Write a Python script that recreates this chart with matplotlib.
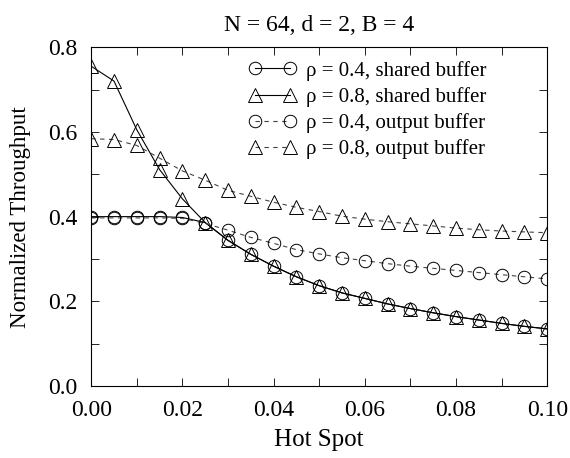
import matplotlib
matplotlib.use("Agg")
import matplotlib.pyplot as plt
from matplotlib.ticker import MultipleLocator

plt.rcParams['font.family'] = ['Liberation Serif', 'DejaVu Serif']

hot_spot = [0.000, 0.005, 0.010, 0.015, 0.020, 0.025, 0.030, 0.035, 0.040, 0.045, 0.050,
            0.055, 0.060, 0.065, 0.070, 0.075, 0.080, 0.085, 0.090, 0.095, 0.100]

shared_04 = [0.400, 0.400, 0.400, 0.400, 0.398, 0.386, 0.344, 0.311, 0.283, 0.258, 0.237,
             0.220, 0.207, 0.194, 0.183, 0.173, 0.164, 0.156, 0.148, 0.141, 0.135]
shared_08 = [0.755, 0.720, 0.605, 0.511, 0.442, 0.386, 0.344, 0.311, 0.283, 0.258, 0.237,
             0.220, 0.207, 0.194, 0.183, 0.173, 0.164, 0.156, 0.148, 0.141, 0.135]
output_04 = [0.397, 0.397, 0.397, 0.397, 0.396, 0.384, 0.368, 0.351, 0.337, 0.322, 0.312,
             0.303, 0.296, 0.289, 0.283, 0.278, 0.273, 0.268, 0.263, 0.258, 0.253]
output_08 = [0.584, 0.582, 0.568, 0.538, 0.508, 0.486, 0.462, 0.448, 0.434, 0.422, 0.412,
             0.401, 0.394, 0.388, 0.383, 0.378, 0.373, 0.369, 0.366, 0.364, 0.362]

fig = plt.figure(figsize=(5.7, 4.58), dpi=100)
ax = fig.add_axes([0.160, 0.157, 0.800, 0.740])

ms_c = 9.0
ms_t = 10.0
ax.plot(hot_spot, shared_04, '-', color='black', lw=0.8, marker='o', ms=ms_c, mfc='none',
        mew=0.7, label='ρ = 0.4, shared buffer')
ax.plot(hot_spot, shared_08, '-', color='black', lw=0.8, marker='^', ms=ms_t, mfc='none',
        mew=0.7, label='ρ = 0.8, shared buffer')
ax.plot(hot_spot, output_04, '--', color='#444444', lw=0.8, dashes=(4, 4), marker='o', ms=ms_c,
        mfc='none', mec='black', mew=0.7, label='ρ = 0.4, output buffer')
ax.plot(hot_spot, output_08, '--', color='#444444', lw=0.8, dashes=(4, 4), marker='^', ms=ms_t,
        mfc='none', mec='black', mew=0.7, label='ρ = 0.8, output buffer')

ax.set_xlim(0, 0.1)
ax.set_ylim(0, 0.8)
ax.xaxis.set_major_locator(MultipleLocator(0.02))
ax.xaxis.set_minor_locator(MultipleLocator(0.01))
ax.yaxis.set_major_locator(MultipleLocator(0.2))
ax.yaxis.set_minor_locator(MultipleLocator(0.1))
ax.xaxis.set_major_formatter(plt.FormatStrFormatter('%.2f'))
ax.yaxis.set_major_formatter(plt.FormatStrFormatter('%.1f'))
ax.tick_params(which='both', direction='in', top=True, right=True, labelsize=17, width=0.6)
ax.tick_params(which='major', length=6, pad=10)
ax.tick_params(which='minor', length=6)
for s in ax.spines.values():
    s.set_linewidth(0.8)

ax.set_xlabel('Hot Spot', fontsize=18, labelpad=6)
ax.set_ylabel('Normalized Throughput', fontsize=16.5, labelpad=12)
ax.set_title('N = 64, d = 2, B = 4', fontsize=17, pad=12)

ax.legend(loc='upper left', bbox_to_anchor=(0.345, 0.96), frameon=False, fontsize=15,
          numpoints=2, handlelength=2.3, handletextpad=0.45, labelspacing=0.3,
          borderaxespad=0, borderpad=0)

fig.savefig('out.png', dpi=100)
